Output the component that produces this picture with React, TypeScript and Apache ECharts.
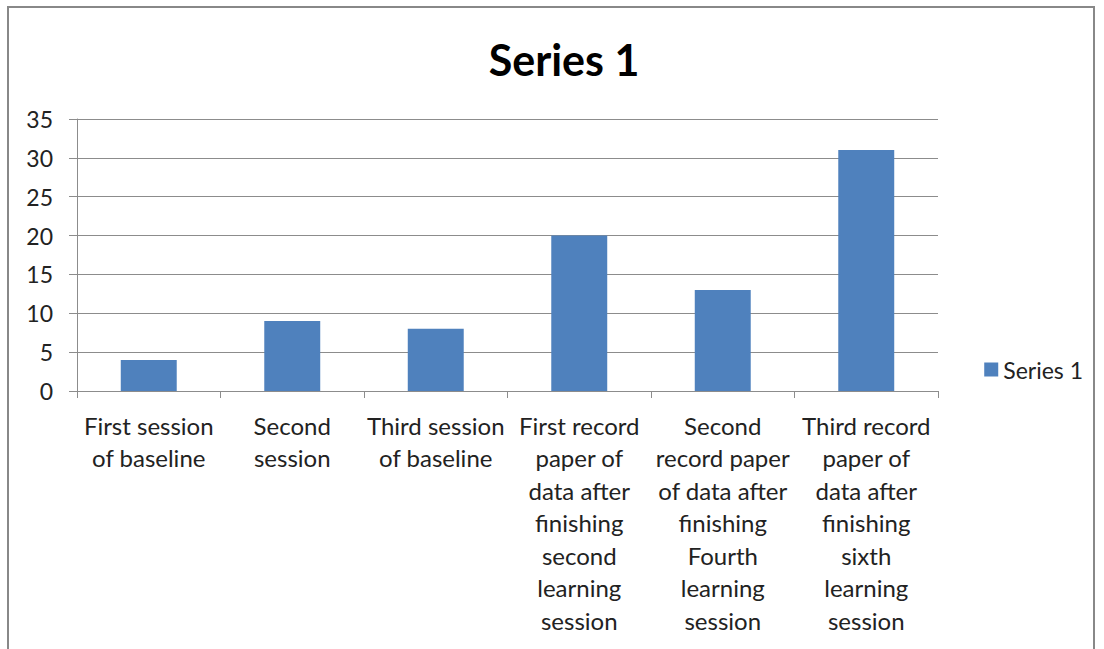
import React, { useEffect, useRef } from "react";
import * as echarts from "echarts";

const categories = [
  "First session\nof baseline",
  "Second\nsession",
  "Third session\nof baseline",
  "First record\npaper of\ndata after\nfinishing\nsecond\nlearning\nsession",
  "Second\nrecord paper\nof data after\nfinishing\nFourth\nlearning\nsession",
  "Third record\npaper of\ndata after\nfinishing\nsixth\nlearning\nsession",
];
const seriesValues = [4, 9, 8, 20, 13, 31];
const seriesName = "Series 1";
const yTicks = { min: 0, max: 35, interval: 5 };

const FONT = "Lato, 'Open Sans', sans-serif";

export default function App() {
  const ref = useRef<HTMLDivElement>(null);
  useEffect(() => {
    if (!ref.current) return;
    const chart = echarts.init(ref.current, null, { renderer: "svg" });
    chart.setOption({
      animation: false,
      backgroundColor: "#ffffff",
      title: {
        text: seriesName,
        left: 559,
        textAlign: "center",
        top: 33,
        textStyle: { fontFamily: FONT, fontSize: 43, fontWeight: "bold", color: "#000" },
      },
      legend: {
        right: 16,
        top: 353,
        itemWidth: 14,
        itemHeight: 14,
        itemGap: 8,
        icon: "rect",
        textStyle: { fontFamily: FONT, fontSize: 23, color: "#222" },
        data: [seriesName],
      },
      grid: { left: 77, right: 166, top: 119, bottom: 258, containLabel: false },
      xAxis: {
        type: "category",
        data: categories,
        axisLine: { show: true, lineStyle: { color: "#8c8c8c", width: 1 } },
        axisTick: { show: true, length: 7, alignWithLabel: false, lineStyle: { color: "#8c8c8c" } },
        axisLabel: {
          interval: 0,
          margin: 18,
          fontFamily: FONT,
          fontSize: 24,
          lineHeight: 32.5,
          color: "#222",
          align: "center",
        },
      },
      yAxis: {
        type: "value",
        min: yTicks.min,
        max: yTicks.max,
        interval: yTicks.interval,
        axisLine: { show: true, lineStyle: { color: "#8c8c8c", width: 1 } },
        axisTick: { show: true, length: 8, lineStyle: { color: "#8c8c8c" } },
        splitLine: { show: true, lineStyle: { color: "#8c8c8c", width: 1 } },
        axisLabel: { margin: 24, fontFamily: FONT, fontSize: 23, color: "#222" },
      },
      series: [
        {
          name: seriesName,
          type: "bar",
          data: seriesValues,
          barWidth: "39%",
          itemStyle: { color: "#4F81BD" },
        },
      ],
      graphic: [
        {
          type: "rect",
          shape: { x: 8, y: 7, width: 1086, height: 720 },
          style: { fill: "none", stroke: "#888", lineWidth: 2 },
          silent: true,
          z: 100,
        },
      ],
    });
    return () => chart.dispose();
  }, []);
  return (
    <div
      ref={ref}
      style={{ position: "absolute", left: 0, top: 0, width: 1104, height: 649 }}
    />
  );
}
